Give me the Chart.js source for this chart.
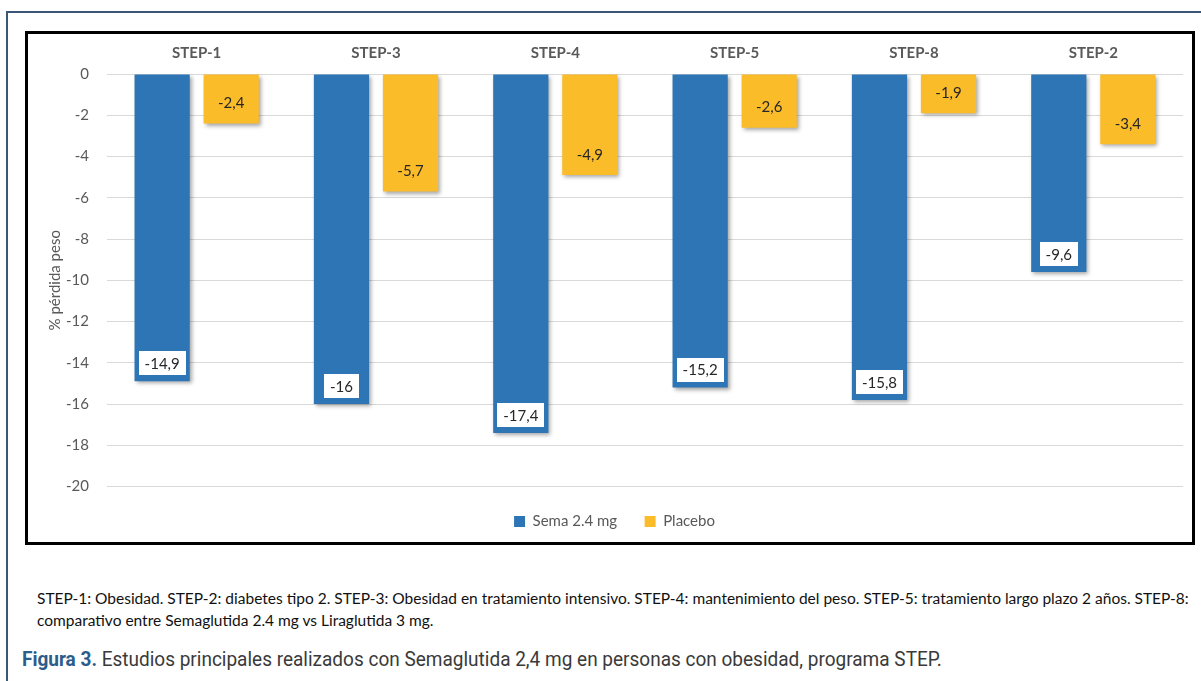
<!DOCTYPE html>
<html>
<head>
<meta charset="utf-8">
<script src="https://cdn.jsdelivr.net/npm/chart.js@4.4.1/dist/chart.umd.min.js"></script>
<style>
  html, body { margin: 0; padding: 0; background: #fff; }
  body { width: 1201px; height: 681px; position: relative; overflow: hidden; font-family: Lato, "Open Sans", sans-serif; }
  #frameTop { position: absolute; left: 7px; top: 11px; width: 1194px; height: 0; border-top: 2px solid #3b5676; }
  #frameLeft { position: absolute; left: 6px; top: 11px; width: 0; height: 670px; border-left: 2px solid #3b5676; }
  #box { position: absolute; left: 25px; top: 31px; width: 1164px; height: 508px; border: 3px solid #000; }
  #wrap { position: absolute; left: 0; top: 0; width: 1164px; height: 508px; }
  #note { position: absolute; left: 37px; top: 587px; font-size: 15.5px; line-height: 22px; color: #111; white-space: nowrap; font-family: Lato, sans-serif; }
  #fig { position: absolute; left: 22px; top: 647px; font-size: 21px; color: #3a3a3a; white-space: nowrap; font-family: Roboto, sans-serif; transform: scaleX(0.905); transform-origin: left top; }
  #fig b { color: #2b5d8c; }
</style>
</head>
<body>
<div id="frameTop"></div>
<div id="frameLeft"></div>
<div id="box"><div id="wrap"><canvas id="c"></canvas></div></div>
<div id="note">STEP-1: Obesidad. STEP-2: diabetes tipo 2. STEP-3: Obesidad en tratamiento intensivo. STEP-4: mantenimiento del peso. STEP-5: tratamiento largo plazo 2 años. STEP-8:<br>comparativo entre Semaglutida 2.4 mg vs Liraglutida 3 mg.</div>
<div id="fig"><b>Figura 3.</b> Estudios principales realizados con Semaglutida 2,4 mg en personas con obesidad, programa STEP.</div>
<script>
const categories = ['STEP-1', 'STEP-3', 'STEP-4', 'STEP-5', 'STEP-8', 'STEP-2'];
const semaValues = [-14.9, -16, -17.4, -15.2, -15.8, -9.6];
const placeboValues = [-2.4, -5.7, -4.9, -2.6, -1.9, -3.4];
const seriesNames = ['Sema 2.4 mg', 'Placebo'];
const yTicks = [0, -2, -4, -6, -8, -10, -12, -14, -16, -18, -20];

const BLUE = '#2E75B6';
const GOLD = '#FBBC2A';
const TEXT = '#595959';

const shadowPlugin = {
  id: 'barShadow',
  beforeDatasetDraw(chart) {
    const ctx = chart.ctx;
    ctx.save();
    ctx.shadowColor = 'rgba(0,0,0,0.35)';
    ctx.shadowBlur = 4;
    ctx.shadowOffsetX = 2;
    ctx.shadowOffsetY = 2;
  },
  afterDatasetDraw(chart) {
    chart.ctx.restore();
  }
};

const labelPlugin = {
  id: 'valueLabels',
  afterDatasetsDraw(chart) {
    const ctx = chart.ctx;
    ctx.save();
    ctx.font = '15px Lato, sans-serif';
    ctx.textAlign = 'center';
    ctx.textBaseline = 'middle';
    chart.data.datasets.forEach((ds, di) => {
      const meta = chart.getDatasetMeta(di);
      meta.data.forEach((bar, i) => {
        const txt = String(ds.data[i]).replace('.', ',');
        const cy = bar.y - (di === 0 ? 18 : 21);
        if (di === 0) {
          const w = ctx.measureText(txt).width + 12;
          const h = 24;
          ctx.fillStyle = '#fff';
          ctx.fillRect(Math.round(bar.x - w / 2), Math.round(cy - h / 2), Math.round(w), h);
        }
        ctx.fillStyle = '#262626';
        ctx.fillText(txt, bar.x, cy + 1);
      });
    });
    ctx.restore();
  }
};

new Chart(document.getElementById('c'), {
  type: 'bar',
  data: {
    labels: categories,
    datasets: [
      { label: seriesNames[0], data: semaValues, backgroundColor: BLUE, barPercentage: 0.8, categoryPercentage: 0.77 },
      { label: seriesNames[1], data: placeboValues, backgroundColor: GOLD, barPercentage: 0.8, categoryPercentage: 0.77 }
    ]
  },
  options: {
    responsive: true,
    maintainAspectRatio: false,
    animation: false,
    layout: { padding: { left: 18, right: 9, top: 0, bottom: 3 } },
    plugins: {
      legend: {
        position: 'bottom',
        labels: { boxWidth: 11, boxHeight: 11, color: TEXT, font: { size: 15, family: 'Lato, sans-serif' }, padding: 27.5 }
      },
      tooltip: { enabled: false }
    },
    scales: {
      x: {
        position: 'top',
        grid: { display: false },
        border: { display: false },
        ticks: { color: TEXT, font: { size: 15, weight: 'bold', family: 'Lato, sans-serif' }, padding: 4 },
        afterFit(scale) { scale.height = 40; }
      },
      y: {
        min: -20,
        max: 0,
        afterBuildTicks(scale) { scale.ticks = yTicks.map(v => ({ value: v })); },
        grid: { color: '#d9d9d9', drawTicks: false },
        border: { display: false },
        ticks: { color: TEXT, font: { size: 15, family: 'Lato, sans-serif' }, padding: 18 },
        title: { display: true, text: '% pérdida peso', color: TEXT, font: { size: 15, family: 'Lato, sans-serif' }, padding: 0 },
        afterFit(scale) { scale.width = 61; }
      }
    }
  },
  plugins: [shadowPlugin, labelPlugin]
});
</script>
</body>
</html>
